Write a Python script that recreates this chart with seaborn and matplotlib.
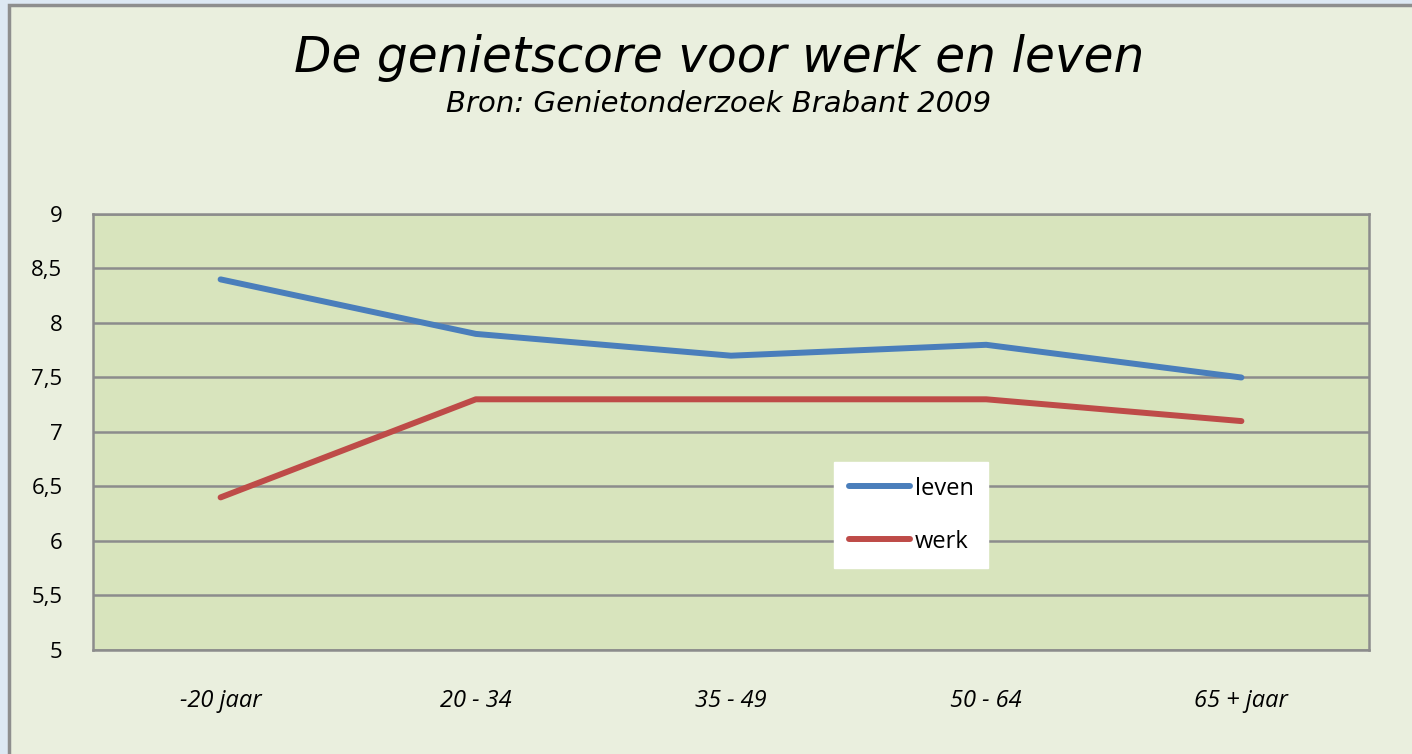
import numpy as np
import pandas as pd
import matplotlib
matplotlib.use("Agg")
import matplotlib.pyplot as plt
from matplotlib.patches import Rectangle
import seaborn as sns

# data
age_groups = ["-20 jaar", "20 - 34", "35 - 49", "50 - 64", "65 + jaar"]
leven = [8.4, 7.9, 7.7, 7.8, 7.5]
werk = [6.4, 7.3, 7.3, 7.3, 7.1]
y_ticks = [5, 5.5, 6, 6.5, 7, 7.5, 8, 8.5, 9]
y_labels = ["5", "5,5", "6", "6,5", "7", "7,5", "8", "8,5", "9"]

OUTER = "#EAEFDE"
PLOT_BG = "#D8E4BD"
GRID = "#8C8C8C"
COLORS = {"leven": "#4A7EBB", "werk": "#BE4B48"}

df = pd.DataFrame({
    "leeftijd": age_groups * 2,
    "score": leven + werk,
    "serie": ["leven"] * len(leven) + ["werk"] * len(werk),
})

sns.set_style("white")
plt.rcParams["font.family"] = ["DejaVu Sans"]

W, H = 1412, 754
fig = plt.figure(figsize=(W / 100, H / 100), dpi=100, facecolor="#DDE8F3")
# chart frame (screenshot: frame runs off right and bottom edges)
fig.patches.append(Rectangle((9 / W, -0.01), 1.0, 1.01 - 5 / H, transform=fig.transFigure,
                             facecolor=OUTER, edgecolor="#8E8E8E", linewidth=2.5, zorder=-10))

ax = fig.add_axes([93 / W, 1 - 650 / H, (1369 - 93) / W, (650 - 214) / H])
ax.set_zorder(5)
ax.set_facecolor(PLOT_BG)

sns.lineplot(data=df, x="leeftijd", y="score", hue="serie", palette=COLORS,
             linewidth=4.3, ax=ax, sort=False, legend=True)
for ln in ax.get_lines():
    ln.set_solid_capstyle("round")
    ln.set_solid_joinstyle("round")

ax.set_xlim(-0.5, len(age_groups) - 0.5)
ax.set_ylim(5, 9)
ax.set_yticks(y_ticks)
ax.set_yticklabels(y_labels, fontsize=16, family="Open Sans", color="black")
ax.set_xticks(range(len(age_groups)))
ax.set_xticklabels(age_groups, fontsize=17, style="italic", family="Open Sans", color="black")
ax.tick_params(axis="y", length=0, pad=22)
ax.tick_params(axis="x", length=0, pad=28)
ax.set_xlabel("")
ax.set_ylabel("")
ax.yaxis.grid(True, color=GRID, linewidth=1.8)
ax.set_axisbelow(True)
for s in ax.spines.values():
    s.set_color(GRID)
    s.set_linewidth(1.8)

leg = ax.legend(loc="upper left", bbox_to_anchor=(0.5807, 0.431), borderaxespad=0,
                frameon=True, fancybox=False, framealpha=1, edgecolor="white",
                facecolor="white", prop={"family": "Open Sans", "size": 17},
                handlelength=2.6, handletextpad=0.2, labelspacing=1.22, borderpad=0.62)
for line in leg.get_lines():
    line.set_linewidth(4.3)
    line.set_solid_capstyle("round")
for t in leg.get_texts():
    t.set_color("black")

fig.text(719 / W, 1 - 58 / H, "De genietscore voor werk en leven", ha="center",
         va="center", fontsize=35, style="italic", color="black")
fig.text(719 / W, 1 - 104 / H, "Bron: Genietonderzoek Brabant 2009", ha="center",
         va="center", fontsize=21, style="italic", color="black")

fig.savefig("out.png", dpi=100, facecolor=fig.get_facecolor())
